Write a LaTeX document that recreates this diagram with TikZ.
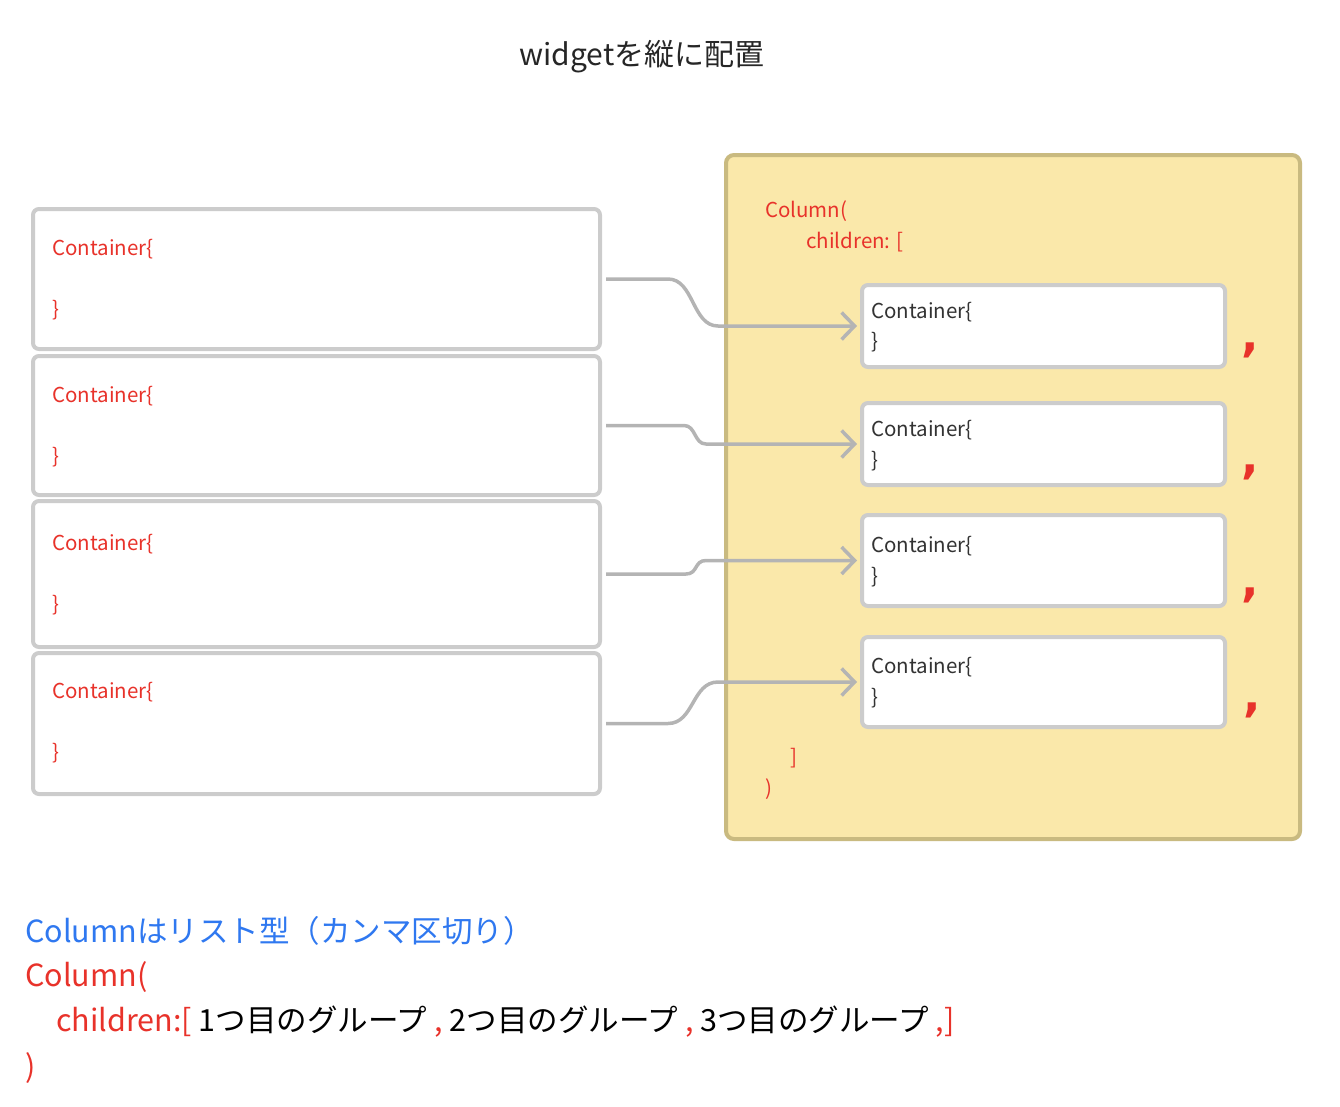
\documentclass[tikz,border=0pt]{standalone}
\usepackage{fontspec}
\setmainfont{Noto Sans CJK JP}
\newfontfamily\kommafont{DejaVu Sans}
\usepackage{xcolor}
\usetikzlibrary{arrows.meta}
\usetikzlibrary{shapes}

\definecolor{rot}{HTML}{E8322A}
\definecolor{blau}{HTML}{2F78F0}
\definecolor{rahmen}{HTML}{CCCCCC}
\definecolor{gelb}{HTML}{FAE8AA}
\definecolor{gelbrand}{HTML}{C9BA80}
\definecolor{pfeilgrau}{HTML}{B4B4B4}
\definecolor{dunkel}{HTML}{333333}

\begin{document}
\begin{tikzpicture}[x=1pt, y=-1pt,
	kasten/.style={draw=rahmen, line width=4pt, rounded corners=6pt, fill=white},
	code/.style={anchor=west, inner sep=0pt, font=\fontsize{20.5}{24}\selectfont},
	komma/.style={inner sep=0pt, text=rot, font=\kommafont\fontsize{46}{46}\selectfont\bfseries},
	gross/.style={anchor=west, inner sep=0pt, font=\fontsize{30.5}{36}\selectfont},
	pfeil/.style={->, >={Straight Barb[length=13pt, width=27pt]}, draw=pfeilgrau, line width=3.5pt, shorten <=4pt, shorten >=3pt}]
	   	\useasboundingbox (0,0) rectangle (1340,1106);
	   	%
	   	%Titel
	   	\node (titel) at (642,57) [inner sep=0pt, text=black!85, font=\fontsize{30}{36}\selectfont] {widgetを縦に配置};
	   	%
	   	%%%%%%%%%%%%%%%%%%%%%%%%%%%%%%%%%%%%%%
	   	%LINKE SEITE
	   	%Container 1
	   	\node (L1) at (316.5,279) [kasten, minimum width=567pt, minimum height=140pt] {};
	   	\node (L1a) at (52,249) [code, text=rot] {Container\{};
	   	\node (L1b) at (52,310) [code, text=rot] {\}};
	   	%
	   	%Container 2
	   	\node (L2) at (316.5,425.5) [kasten, minimum width=567pt, minimum height=139pt] {};
	   	\node (L2a) at (52,396) [code, text=rot] {Container\{};
	   	\node (L2b) at (52,457) [code, text=rot] {\}};
	   	%
	   	%Container 3
	   	\node (L3) at (316.5,574) [kasten, minimum width=567pt, minimum height=146pt] {};
	   	\node (L3a) at (52,544) [code, text=rot] {Container\{};
	   	\node (L3b) at (52,605) [code, text=rot] {\}};
	   	%
	   	%Container 4
	   	\node (L4) at (316.5,723.5) [kasten, minimum width=567pt, minimum height=141pt] {};
	   	\node (L4a) at (52,692) [code, text=rot] {Container\{};
	   	\node (L4b) at (52,753) [code, text=rot] {\}};
	   	%
	   	%%%%%%%%%%%%%%%%%%%%%%%%%%%%%%%%%%%%%%
	   	%RECHTE SEITE
	   	%Column
	   	\node (col) at (1013,497) [draw=gelbrand, fill=gelb, line width=4pt, rounded corners=8pt, minimum width=574pt, minimum height=684pt] {};
	   	\node (cola) at (765,211) [code, text=rot] {Column(};
	   	\node (colb) at (806,242) [code, text=rot] {children: [};
	   	\node (colc) at (790,758) [code, text=rot] {]};
	   	\node (cold) at (765,789) [code, text=rot] {)};
	   	%
	   	%Container 1
	   	\node (R1) at (1043.5,326) [kasten, minimum width=363pt, minimum height=82pt] {};
	   	\node (R1a) at (871,312) [code, text=dunkel] {Container\{};
	   	\node (R1b) at (871,342) [code, text=dunkel] {\}};
	   	\node (k1) at (1250,350) [komma] {,};
	   	%
	   	%Container 2
	   	\node (R2) at (1043.5,444) [kasten, minimum width=363pt, minimum height=82pt] {};
	   	\node (R2a) at (871,430) [code, text=dunkel] {Container\{};
	   	\node (R2b) at (871,461) [code, text=dunkel] {\}};
	   	\node (k2) at (1250,472) [komma] {,};
	   	%
	   	%Container 3
	   	\node (R3) at (1043.5,560.5) [kasten, minimum width=363pt, minimum height=91pt] {};
	   	\node (R3a) at (871,546) [code, text=dunkel] {Container\{};
	   	\node (R3b) at (871,577) [code, text=dunkel] {\}};
	   	\node (k3) at (1250,595) [komma] {,};
	   	%
	   	%Container 4
	   	\node (R4) at (1043.5,682) [kasten, minimum width=363pt, minimum height=90pt] {};
	   	\node (R4a) at (871,667) [code, text=dunkel] {Container\{};
	   	\node (R4b) at (871,698) [code, text=dunkel] {\}};
	   	\node (k4) at (1252,710) [komma] {,};
	   	%
	   	%%%%%%%%%%%%%%%%%%%%%%%%%%%%%%%%%%%%%%
	   	%Pfeile links - rechts
	   	\draw[pfeil] (L1.east) -- (668,0 |- L1.east) .. controls +(26,0) and +(-26,0) .. (718,0 |- R1.west) -- (R1.west);
	   	\draw[pfeil] (L2.east) -- (684,0 |- L2.east) .. controls +(12,0) and +(-12,0) .. (706,0 |- R2.west) -- (R2.west);
	   	\draw[pfeil] (L3.east) -- (686,0 |- L3.east) .. controls +(12,0) and +(-12,0) .. (706,0 |- R3.west) -- (R3.west);
	   	\draw[pfeil] (L4.east) -- (668,0 |- L4.east) .. controls +(26,0) and +(-26,0) .. (718,0 |- R4.west) -- (R4.west);
	   	%
	   	%%%%%%%%%%%%%%%%%%%%%%%%%%%%%%%%%%%%%%
	   	%Erklaerung unten
	   	\node (erkl) at (25,931) [gross, text=blau] {Columnはリスト型（カンマ区切り）};
	   	\node (zeile1) at (25,977) [gross, text=rot] {Column(};
	   	\node (zeile2) at (56,1022) [gross, text=black] {\textcolor{rot}{children:[} 1つ目のグループ \textcolor{rot}{,} 2つ目のグループ \textcolor{rot}{,} 3つ目のグループ \textcolor{rot}{,]}};
	   	\node (zeile3) at (25,1068) [gross, text=rot] {)};
\end{tikzpicture}
\end{document}
